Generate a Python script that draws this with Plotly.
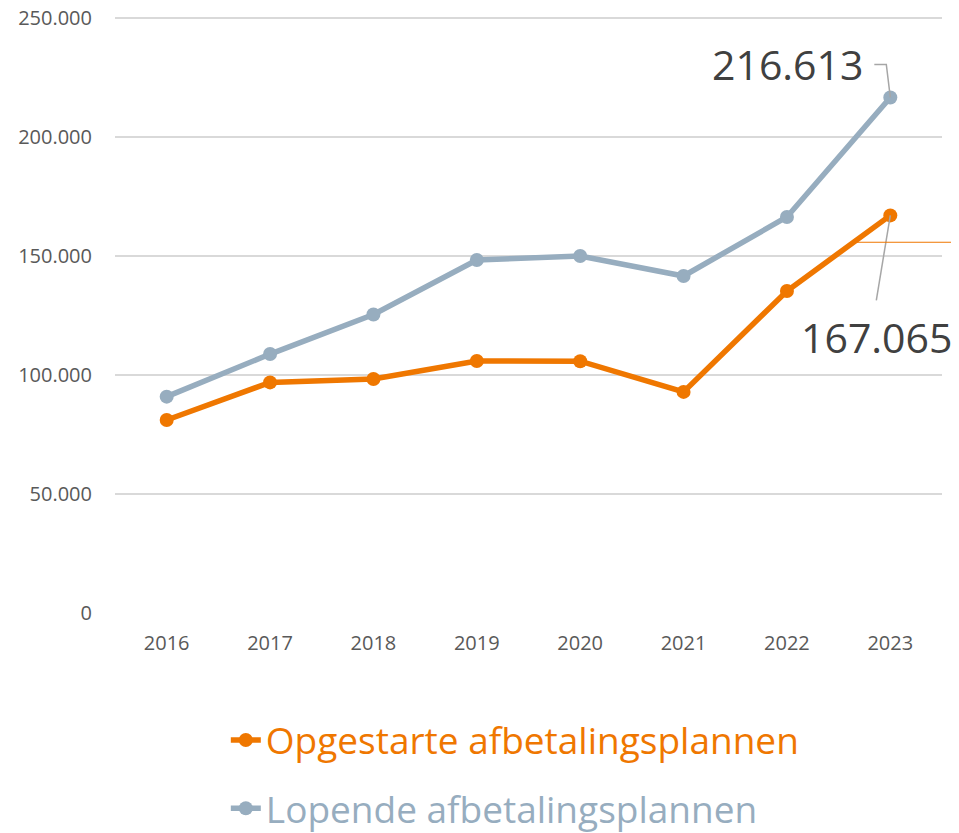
import plotly.graph_objects as go

years = ["2016", "2017", "2018", "2019", "2020", "2021", "2022", "2023"]
opgestarte = [81100, 96900, 98300, 105900, 105800, 92900, 135300, 167065]
lopende = [90900, 108800, 125400, 148300, 150000, 141600, 166400, 216613]
y_ticks = [0, 50000, 100000, 150000, 200000, 250000]
y_tick_labels = ["0", "50.000", "100.000", "150.000", "200.000", "250.000"]

ORANGE = "#EF7700"
GRAY = "#97ADBF"
FONT = "Open Sans"

fig = go.Figure()
fig.add_trace(go.Scatter(
    x=years, y=opgestarte, name="Opgestarte afbetalingsplannen",
    mode="lines+markers", line=dict(color=ORANGE, width=5.5),
    marker=dict(size=14, color=ORANGE), legend="legend",
))
fig.add_trace(go.Scatter(
    x=years, y=lopende, name="Lopende afbetalingsplannen",
    mode="lines+markers", line=dict(color=GRAY, width=5.5),
    marker=dict(size=14, color=GRAY), legend="legend2",
))

def fmt(v):
    return f"{v:,}".replace(",", ".")

last = len(years) - 1
fig.add_annotation(x=last, y=lopende[-1], text=fmt(lopende[-1]), showarrow=False,
                   xanchor="right", yanchor="middle", xshift=-25, yshift=33,
                   font=dict(family=FONT, size=41, color="#404040"))
fig.add_annotation(x=last, y=opgestarte[-1], text=fmt(opgestarte[-1]), showarrow=False,
                   xanchor="center", yanchor="middle", xshift=-14, yshift=-122,
                   font=dict(family=FONT, size=41, color="#404040"))

# leader lines
fig.add_shape(type="path", xref="x", yref="y", xsizemode="pixel", ysizemode="pixel",
              xanchor=last, yanchor=lopende[-1], path="M-16,33 L-4,33 L0,0",
              line=dict(color="#A6A6A6", width=1.5))
fig.add_shape(type="path", xref="x", yref="y", xsizemode="pixel", ysizemode="pixel",
              xanchor=last, yanchor=opgestarte[-1], path="M0,0 L-14,-85",
              line=dict(color="#A6A6A6", width=1.5))
# thin orange stray line at right
fig.add_shape(type="line", xref="paper", yref="paper", x0=0.897, x1=1.03, y0=0.621, y1=0.621,
              line=dict(color=ORANGE, width=1))

fig.update_layout(
    width=951, height=825,
    margin=dict(l=107, r=17, t=8, b=220, autoexpand=False),
    plot_bgcolor="white", paper_bgcolor="white",
    font=dict(family=FONT, color="#595959"),
    xaxis=dict(type="category", range=[-0.5, 7.5], showgrid=False, showline=False,
               ticks="", ticklabelstandoff=16, automargin=False,
               tickfont=dict(size=20, color="#595959")),
    yaxis=dict(range=[0, 250840], tickvals=y_ticks, ticktext=y_tick_labels,
               showgrid=True, gridcolor="#D9D9D9", gridwidth=1.5, zeroline=False,
               showline=False, ticks="", ticklabelstandoff=22, automargin=False,
               ticklabeloverflow="allow",
               tickfont=dict(size=20, color="#595959")),
    legend=dict(x=0.134, y=-0.2134, xanchor="left", yanchor="middle",
                font=dict(family=FONT, size=37, color=ORANGE), bgcolor="rgba(0,0,0,0)"),
    legend2=dict(x=0.134, y=-0.3277, xanchor="left", yanchor="middle",
                 font=dict(family=FONT, size=37, color=GRAY), bgcolor="rgba(0,0,0,0)"),
    showlegend=True,
)

fig.write_html("out.html")
